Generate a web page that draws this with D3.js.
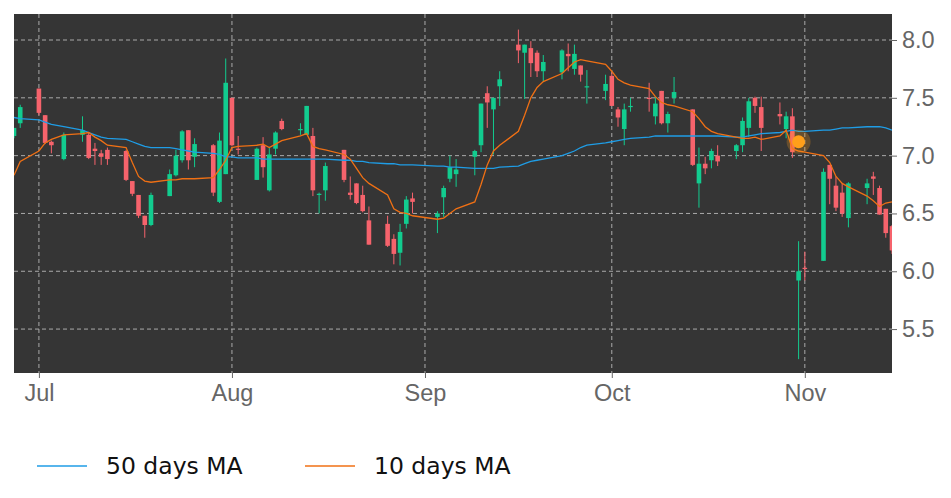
<!DOCTYPE html>
<html>
<head>
<meta charset="utf-8">
<script src="https://cdn.jsdelivr.net/npm/d3@7"></script>
<style>
  body { margin: 0; background: #fff; }
  svg { font-family: "DejaVu Sans", sans-serif; }
</style>
</head>
<body>
<div id="chart"></div>
<script>
// Daily candles (2019)
const dates = ["06-27","06-28","07-01","07-02","07-03","07-05","07-08","07-09","07-10","07-11","07-12",
  "07-15","07-16","07-17","07-18","07-19","07-22","07-23","07-24","07-25","07-26","07-29","07-30","07-31",
  "08-01","08-02","08-05","08-06","08-07","08-08","08-09","08-12","08-13","08-14","08-15","08-16",
  "08-19","08-20","08-21","08-22","08-23","08-26","08-27","08-28","08-29","08-30","09-03","09-04","09-05","09-06",
  "09-09","09-10","09-11","09-12","09-13","09-16","09-17","09-18","09-19","09-20","09-23","09-24","09-25","09-26","09-27",
  "09-30","10-01","10-02","10-03","10-04","10-07","10-08","10-09","10-10","10-11","10-14","10-15","10-16","10-17","10-18",
  "10-21","10-22","10-23","10-24","10-25","10-28","10-29","10-30","10-31","11-01","11-04","11-05","11-06","11-07","11-08",
  "11-11","11-12","11-13","11-14","11-15"];
const opens = [7.17,7.28,7.58,7.35,7.12,6.97,7.18,7.18,7.06,7.02,7.05,
  7.04,6.78,6.66,6.48,6.40,6.65,6.83,6.96,7.22,6.99,7.09,6.60,6.84,
  7.50,7.06,6.79,7.09,6.70,7.06,7.30,7.22,7.18,7.17,6.66,6.70,
  7.05,6.68,6.76,6.66,6.44,6.41,6.28,6.16,6.41,6.63,6.47,6.64,6.80,6.84,
  6.99,7.09,7.54,7.40,7.60,7.96,7.89,7.93,7.89,7.73,7.72,7.88,7.75,7.78,7.60,
  7.56,7.69,7.40,7.23,7.43,7.50,7.34,7.56,7.28,7.50,7.40,6.76,6.93,6.96,7.00,
  7.04,7.09,7.24,7.50,7.42,7.36,7.23,7.34,5.92,6.03,6.09,6.92,6.74,6.68,6.46,
  6.72,6.82,6.72,6.54,6.39];
const highs = [7.20,7.44,7.58,7.35,7.13,7.20,7.34,7.20,7.11,7.05,7.07,
  7.05,6.78,6.66,6.48,6.68,6.88,7.05,7.22,7.22,7.15,7.10,7.20,7.84,
  7.50,7.17,7.07,7.16,7.07,7.21,7.32,7.28,7.43,7.24,6.68,6.94,
  7.05,6.82,6.76,6.74,6.56,6.48,6.32,6.41,6.65,6.68,6.52,6.74,7.00,6.97,
  7.05,7.45,7.60,7.50,7.73,8.09,7.96,7.99,7.91,7.87,7.92,7.97,7.96,7.78,7.74,
  7.70,7.72,7.42,7.45,7.50,7.63,7.51,7.56,7.38,7.68,7.40,7.07,6.99,7.06,7.09,
  7.10,7.33,7.50,7.51,7.51,7.46,7.38,7.41,6.26,6.17,6.89,6.92,6.82,6.76,6.77,
  6.80,6.86,6.74,6.54,6.40];
const lows = [7.15,7.24,7.35,7.10,7.02,6.96,7.12,6.97,6.92,6.92,6.92,
  6.78,6.65,6.46,6.29,6.39,6.65,6.82,6.94,6.88,6.90,6.65,6.59,6.84,
  7.08,7.01,6.79,6.81,6.69,7.01,7.22,7.18,7.18,6.65,6.50,6.61,
  6.77,6.62,6.58,6.51,6.23,6.21,6.06,6.05,6.37,6.50,6.33,6.47,6.77,6.73,
  6.83,7.03,7.24,7.01,7.43,7.80,7.49,7.68,7.68,7.64,7.66,7.73,7.70,7.64,7.45,
  7.48,7.43,7.25,7.09,7.38,7.38,7.27,7.27,7.20,7.45,6.91,6.55,6.84,6.89,6.91,
  6.97,7.03,7.16,7.37,7.04,7.27,7.15,6.98,5.24,5.92,6.09,6.58,6.52,6.47,6.38,
  6.58,6.66,6.49,6.29,6.15];
const closes = [7.24,7.42,7.37,7.11,7.09,7.18,7.22,6.98,7.04,6.99,6.97,
  6.79,6.67,6.48,6.40,6.66,6.84,7.00,7.21,6.96,7.10,6.68,7.13,7.63,
  7.09,7.05,7.06,6.90,7.01,7.20,7.23,7.23,7.43,6.70,6.67,6.91,
  6.79,6.66,6.59,6.52,6.23,6.22,6.15,6.34,6.62,6.60,6.50,6.72,6.90,6.88,
  7.04,7.45,7.46,7.50,7.66,7.91,7.96,7.80,7.73,7.81,7.91,7.86,7.88,7.70,7.60,
  7.62,7.43,7.33,7.40,7.43,7.49,7.45,7.28,7.36,7.55,6.92,6.93,6.89,7.04,6.95,
  7.09,7.30,7.47,7.43,7.24,7.34,7.34,7.03,6.00,6.02,6.86,6.80,6.55,6.50,6.76,
  6.76,6.80,6.49,6.33,6.18];
// moving averages, one value per date above
const ma50 = [7.33,7.32,7.31,7.29,7.27,7.25,7.22,7.20,7.18,7.16,7.15,
  7.14,7.12,7.10,7.08,7.07,7.07,7.06,7.05,7.04,7.03,7.02,7.01,6.99,
  6.99,6.98,6.98,6.97,6.97,6.97,6.97,6.97,6.97,6.97,6.97,6.97,
  6.96,6.96,6.95,6.95,6.94,6.93,6.93,6.92,6.92,6.92,6.91,6.91,6.90,6.90,
  6.89,6.89,6.89,6.89,6.90,6.91,6.93,6.95,6.96,6.97,7.00,7.02,7.04,7.07,7.09,
  7.11,7.12,7.13,7.14,7.15,7.16,7.17,7.17,7.17,7.17,7.17,7.17,7.17,7.17,7.17,
  7.16,7.16,7.17,7.18,7.19,7.20,7.21,7.22,7.21,7.21,7.22,7.22,7.23,7.24,7.24,
  7.25,7.25,7.25,7.24,7.22];
const ma10 = [6.83,6.95,7.04,7.11,7.14,7.18,7.19,7.20,7.16,7.13,7.09,
  7.07,6.94,6.82,6.78,6.77,6.79,6.79,6.80,6.80,6.80,6.81,6.88,6.96,
  7.07,7.08,7.09,7.10,7.07,7.10,7.13,7.17,7.19,7.08,7.06,7.05,
  7.01,6.97,6.89,6.81,6.76,6.66,6.54,6.51,6.50,6.48,6.45,6.46,6.50,6.54,
  6.60,6.75,6.92,7.04,7.09,7.21,7.35,7.50,7.59,7.64,7.71,7.76,7.81,7.83,7.82,
  7.79,7.73,7.66,7.63,7.61,7.58,7.51,7.46,7.44,7.43,7.38,7.32,7.25,7.21,7.19,
  7.16,7.15,7.15,7.16,7.14,7.17,7.22,7.06,7.04,7.03,7.00,6.94,6.82,6.76,6.73,
  6.65,6.61,6.56,6.59,6.60];
const yTicks = [5.5, 6.0, 6.5, 7.0, 7.5, 8.0];
const xTickDates = ["07-01","08-01","09-01","10-01","11-01"];
const xTickLabels = ["Jul","Aug","Sep","Oct","Nov"];
const markerDate = "10-31", markerValue = 7.12;

const parse = s => new Date("2019-" + s + "T00:00:00");
const data = dates.map((d, i) => ({ date: parse(d), o: opens[i], h: highs[i], l: lows[i], c: closes[i], m50: ma50[i], m10: ma10[i] }));

const W = 951, H = 498;
const plotL = 14, plotR = 892, plotT = 14, plotB = 373;

const x = d3.scaleTime().domain([parse("06-27"), parse("11-15")]).range([plotL, plotR]);
const y = d3.scaleLinear().domain([5.12, 8.225]).range([plotB, plotT]);

const svg = d3.select("#chart").append("svg").attr("width", W).attr("height", H);

svg.append("defs").append("clipPath").attr("id", "clip")
  .append("rect").attr("x", plotL).attr("y", plotT).attr("width", plotR - plotL).attr("height", plotB - plotT);

svg.append("rect").attr("x", plotL).attr("y", plotT).attr("width", plotR - plotL).attr("height", plotB - plotT)
  .attr("fill", "#353535");

// grid
svg.append("g").selectAll("line").data(yTicks).join("line")
  .attr("x1", plotL).attr("x2", plotR).attr("y1", d => y(d)).attr("y2", d => y(d))
  .attr("stroke", "#aaa").attr("stroke-dasharray", "4,3").attr("stroke-width", 1);
svg.append("g").selectAll("line").data(xTickDates).join("line")
  .attr("x1", d => x(parse(d))).attr("x2", d => x(parse(d))).attr("y1", plotT).attr("y2", plotB)
  .attr("stroke", "#aaa").attr("stroke-dasharray", "4,3").attr("stroke-width", 1);

const plot = svg.append("g").attr("clip-path", "url(#clip)");
const up = "#12cc8f", down = "#f6636c";

plot.selectAll("line.wick").data(data).join("line").attr("class", "wick")
  .attr("x1", d => x(d.date)).attr("x2", d => x(d.date))
  .attr("y1", d => y(d.h)).attr("y2", d => y(d.l))
  .attr("stroke", d => d.c >= d.o ? up : down).attr("stroke-width", 1);
const bw = 4.6;
plot.selectAll("rect.body").data(data).join("rect").attr("class", "body")
  .attr("x", d => x(d.date) - bw / 2).attr("width", bw)
  .attr("y", d => y(Math.max(d.o, d.c)))
  .attr("height", d => Math.max(1.2, Math.abs(y(d.o) - y(d.c))))
  .attr("fill", d => d.c >= d.o ? up : down);

const line50 = d3.line().x(d => x(d.date)).y(d => y(d.m50));
const line10 = d3.line().x(d => x(d.date)).y(d => y(d.m10));
plot.append("path").datum(data).attr("d", line50).attr("fill", "none").attr("stroke", "#1f9de6").attr("stroke-width", 1.3);
plot.append("path").datum(data).attr("d", line10).attr("fill", "none").attr("stroke", "#f07014").attr("stroke-width", 1.3);

// marker
plot.append("circle").attr("cx", x(parse(markerDate))).attr("cy", y(markerValue)).attr("r", 12)
  .attr("fill", "#ff9f1a").attr("opacity", 0.25);
plot.append("circle").attr("cx", x(parse(markerDate))).attr("cy", y(markerValue)).attr("r", 6.5)
  .attr("fill", "#ff9f1a");

// axes
const yAxis = svg.append("g").attr("transform", `translate(${plotR},0)`)
  .call(d3.axisRight(y).tickValues(yTicks).tickFormat(d3.format(".1f")).tickSize(5).tickPadding(5));
yAxis.select(".domain").remove();
yAxis.selectAll("line").attr("stroke", "#666");
yAxis.selectAll("text").attr("fill", "#666").style("font-size", "23.5px");

const xAxis = svg.append("g").attr("transform", `translate(0,${plotB})`)
  .call(d3.axisBottom(x).tickValues(xTickDates.map(parse)).tickFormat((d, i) => xTickLabels[i]).tickSize(5).tickPadding(6));
xAxis.select(".domain").remove();
xAxis.selectAll("line").attr("stroke", "#666");
xAxis.selectAll("text").attr("fill", "#666").style("font-size", "23.5px");

// legend
const legend = [["50 days MA", "#1f9de6", 37], ["10 days MA", "#f07014", 305]];
legend.forEach(([label, color, lx]) => {
  svg.append("line").attr("x1", lx).attr("x2", lx + 50).attr("y1", 466).attr("y2", 466)
    .attr("stroke", color).attr("stroke-width", 1.3);
  svg.append("text").attr("x", lx + 69).attr("y", 474).text(label)
    .style("font-size", "23.5px").attr("fill", "#111");
});
</script>
</body>
</html>
